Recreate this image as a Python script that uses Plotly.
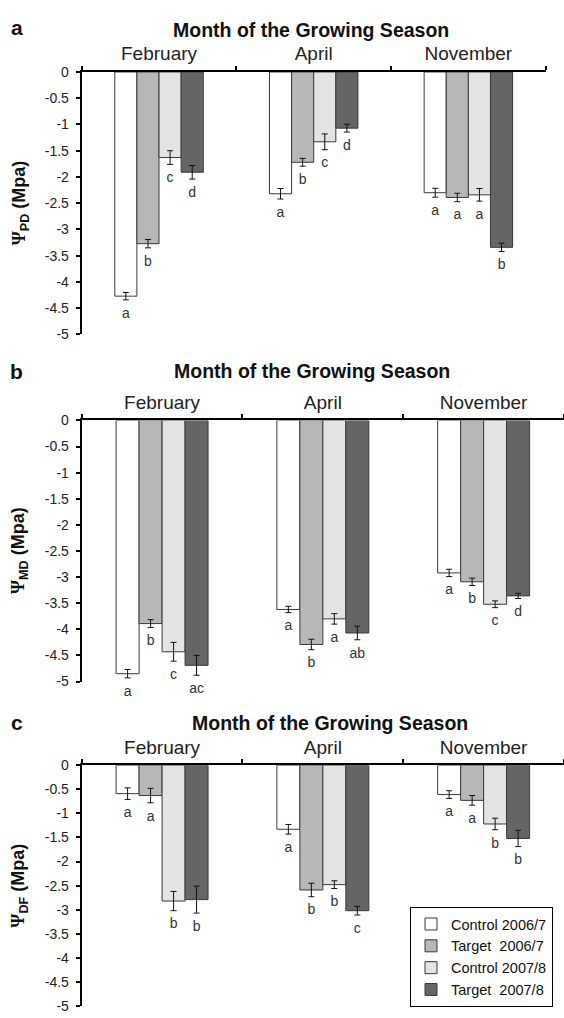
import plotly.graph_objects as go

W, H = 564, 1018

months = ["February", "April", "November"]
month_pos = [0, 1, 2]
series_names = ["Control 2006/7", "Target\u00a0 2006/7", "Control 2007/8", "Target\u00a0 2007/8"]
fill_colors = ["#ffffff", "#b7b7b7", "#e3e3e3", "#656565"]

y_ticks = [0, -0.5, -1, -1.5, -2, -2.5, -3, -3.5, -4, -4.5, -5]
y_tick_text = ["0", "-0.5", "-1", "-1.5", "-2", "-2.5", "-3", "-3.5", "-4", "-4.5", "-5"]

# Panel a : pre-dawn water potential (rows = series, columns = months)
pd_values = [[-4.27, -2.32, -2.30],
             [-3.27, -1.72, -2.39],
             [-1.63, -1.33, -2.34],
             [-1.91, -1.07, -3.34]]
pd_errors = [[0.07, 0.10, 0.085],
             [0.08, 0.075, 0.08],
             [0.13, 0.15, 0.12],
             [0.13, 0.075, 0.08]]
pd_letters = [["a", "a", "a"],
              ["b", "b", "a"],
              ["c", "c", "a"],
              ["d", "d", "b"]]

# Panel b : midday water potential
md_values = [[-4.85, -3.62, -2.92],
             [-3.89, -4.29, -3.09],
             [-4.43, -3.80, -3.52],
             [-4.69, -4.07, -3.36]]
md_errors = [[0.08, 0.06, 0.07],
             [0.075, 0.10, 0.07],
             [0.18, 0.10, 0.065],
             [0.19, 0.13, 0.05]]
md_letters = [["a", "a", "a"],
              ["b", "b", "b"],
              ["c", "a", "c"],
              ["ac", "ab", "d"]]

# Panel c : water potential difference
df_values = [[-0.59, -1.33, -0.61],
             [-0.63, -2.59, -0.73],
             [-2.82, -2.48, -1.22],
             [-2.79, -3.02, -1.52]]
df_errors = [[0.12, 0.10, 0.08],
             [0.15, 0.14, 0.10],
             [0.20, 0.08, 0.12],
             [0.28, 0.09, 0.17]]
df_letters = [["a", "a", "a"],
              ["a", "b", "a"],
              ["b", "b", "b"],
              ["b", "c", "b"]]

bar_w = 0.143
FONT = "Liberation Sans, Arial, Helvetica, sans-serif"

panels = [
    dict(values=pd_values, errors=pd_errors, letters=pd_letters, sub="PD", tag="a",
         xdom=[81.7 / W, 545.7 / W], ytop=65.0, ybot=331.7, title_x=311, title_y=22, tag_y=20),
    dict(values=md_values, errors=md_errors, letters=md_letters, sub="MD", tag="b",
         xdom=[81.7 / W, 1.0], ytop=419.0, ybot=684.3, title_x=312, title_y=369, tag_y=369),
    dict(values=df_values, errors=df_errors, letters=df_letters, sub="DF", tag="c",
         xdom=[81.7 / W, 1.0], ytop=769.3, ybot=1014.0, title_x=330, title_y=726, tag_y=726),
]

fig = go.Figure()
annotations = []
layout_axes = {}

for i, p in enumerate(panels):
    sfx = "" if i == 0 else str(i + 1)
    xa, ya = "x" + sfx, "y" + sfx
    for k in range(4):
        xs = [m + (k - 1.5) * bar_w for m in month_pos]
        fig.add_trace(go.Bar(
            x=xs, y=p["values"][k], width=bar_w,
            name=series_names[k], showlegend=(i == 2),
            marker=dict(color=fill_colors[k], line=dict(color="#3a3a3a", width=1)),
            error_y=dict(type="data", array=p["errors"][k], color="#111111",
                         thickness=1, width=3),
            xaxis=xa, yaxis=ya, hoverinfo="skip"))
        fig.add_trace(go.Scatter(
            x=xs, y=[v - e for v, e in zip(p["values"][k], p["errors"][k])],
            mode="markers+text", text=p["letters"][k], textposition="bottom center",
            marker=dict(size=10, color="rgba(0,0,0,0)"),
            textfont=dict(family=FONT, size=14, color="#333333"),
            cliponaxis=False, showlegend=False, hoverinfo="skip", xaxis=xa, yaxis=ya))

    ydom = [1 - p["ybot"] / H, 1 - p["ytop"] / H]
    layout_axes["xaxis" + sfx] = dict(
        domain=p["xdom"], anchor=ya, side="top", range=[-0.5, 2.5],
        tickmode="array", tickvals=month_pos, ticktext=months, ticks="",
        tickfont=dict(family=FONT, size=19, color="#222222"),
        showline=True, linecolor="black", linewidth=2, showgrid=False, zeroline=False,
        ticklabelstandoff=2,
        minor=dict(tickmode="array", tickvals=[-0.5, 0.5, 1.5, 2.5], ticks="outside",
                   ticklen=4, tickwidth=1.5, tickcolor="black"),
        fixedrange=True)
    layout_axes["yaxis" + sfx] = dict(
        domain=ydom, anchor=xa, range=[-5, 0],
        tickmode="array", tickvals=y_ticks, ticktext=y_tick_text,
        ticks="outside", ticklen=4, tickwidth=1.5, tickcolor="black",
        tickfont=dict(family=FONT, size=14, color="#222222"),
        showline=True, linecolor="black", linewidth=2, showgrid=False, zeroline=False,
        ticklabelstandoff=4, fixedrange=True)

    annotations.append(dict(
        text="<b>Month of the Growing Season</b>", x=p["title_x"] / W, y=1 - p["title_y"] / H,
        xref="paper", yref="paper", showarrow=False, xanchor="center", yanchor="middle",
        font=dict(family=FONT, size=19.5, color="#111111")))
    annotations.append(dict(
        text="<b>" + p["tag"] + "</b>", x=16.5 / W, y=1 - p["tag_y"] / H,
        xref="paper", yref="paper", showarrow=False, xanchor="center", yanchor="middle",
        font=dict(family=FONT, size=21, color="#111111")))
    annotations.append(dict(
        text="<b><span style=\"font-family:'Liberation Serif', 'DejaVu Serif', serif\">\u03a8</span>"
             "<sub>" + p["sub"] + "</sub> (Mpa)</b>",
        x=20 / W, y=1 - (p["ytop"] + p["ybot"]) / 2 / H, textangle=-90,
        xref="paper", yref="paper", showarrow=False, xanchor="center", yanchor="middle",
        font=dict(family=FONT, size=18, color="#111111")))

fig.update_layout(
    width=W, height=H, margin=dict(l=0, r=0, t=0, b=0),
    paper_bgcolor="white", plot_bgcolor="white",
    barmode="overlay", showlegend=True,
    legend=dict(x=410 / W, y=1 - 1015 / H, xanchor="left", yanchor="bottom",
                bordercolor="black", borderwidth=1, bgcolor="white",
                font=dict(family=FONT, size=14.5, color="#111111"),
                traceorder="normal", itemwidth=30, tracegroupgap=0),
    annotations=annotations,
    **layout_axes)

fig.write_html("out.html")
